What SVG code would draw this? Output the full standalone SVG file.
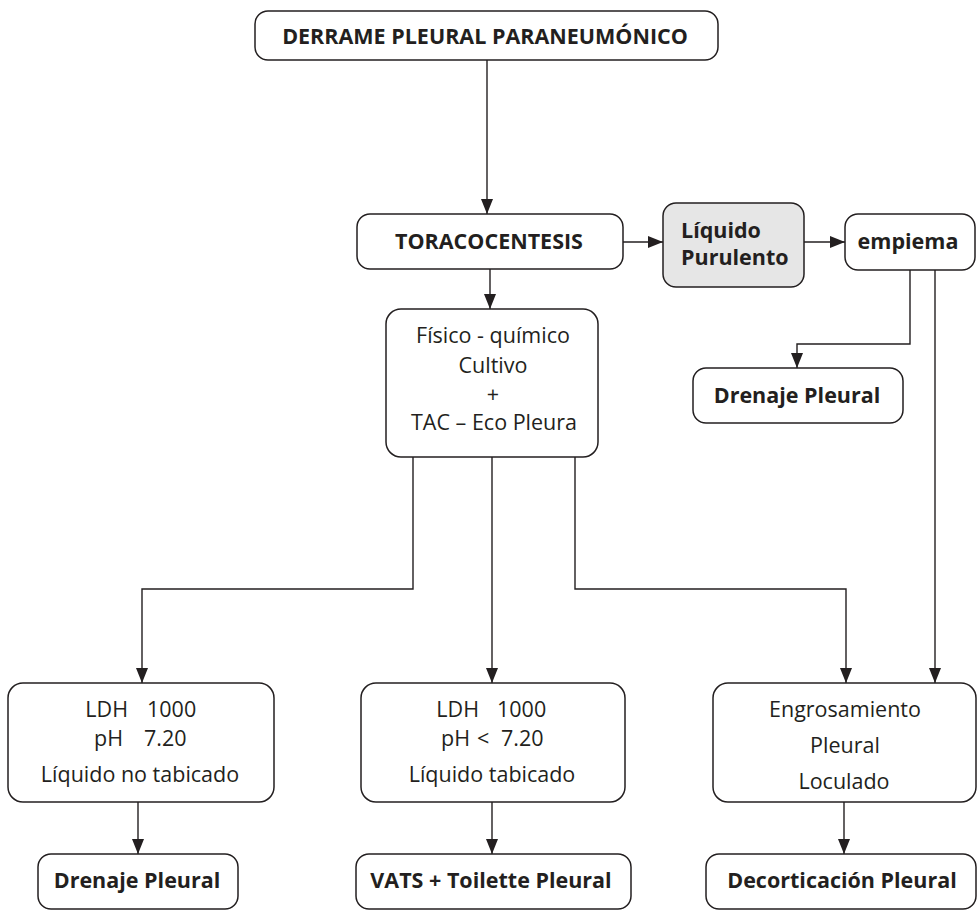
<svg xmlns="http://www.w3.org/2000/svg" width="978" height="912" viewBox="0 0 978 912">
  <style>
    .box { fill: #ffffff; stroke: #231f20; stroke-width: 1.5; }
    .shaded { fill: #e6e6e6; }
    .t { font-family: "Open Sans", "Noto Sans", "DejaVu Sans", sans-serif; font-size: 21.5px; fill: #231f20; }
    .b { font-weight: bold; }
    .c { text-anchor: middle; }
    .e { text-anchor: end; }
    .link { fill: none; stroke: #231f20; stroke-width: 1.4; }
  </style>
  <defs>
    <marker id="arrow" markerUnits="userSpaceOnUse" markerWidth="15" markerHeight="12" refX="15" refY="6" orient="auto">
      <path d="M0,0 L15,6 L0,12 Z" fill="#231f20"/>
    </marker>
  </defs>

  <rect width="978" height="912" fill="#ffffff"/>

  <!-- connectors -->
  <g id="connectors" class="link" marker-end="url(#arrow)">
    <path d="M487,60 V214"/>
    <path d="M490,269 V309"/>
    <path d="M623,242 H663"/>
    <path d="M804,242 H845"/>
    <path d="M910,270 V344 H797 V368"/>
    <path d="M935,270 V683"/>
    <path d="M413,457 V589 H142 V683"/>
    <path d="M492,457 V683"/>
    <path d="M575,457 V589 H846 V683"/>
    <path d="M138,802 V854"/>
    <path d="M492,802 V854"/>
    <path d="M844,802 V854"/>
  </g>

  <g id="derrame">
    <rect class="box" x="255" y="11" width="463" height="49" rx="13"/>
    <text class="t b c" x="485" y="44">DERRAME PLEURAL PARANEUMÓNICO</text>
  </g>

  <g id="toracocentesis">
    <rect class="box" x="357" y="214" width="266" height="55" rx="13"/>
    <text class="t b c" x="489" y="249">TORACOCENTESIS</text>
  </g>

  <g id="liquido-purulento">
    <rect class="box shaded" x="663" y="203" width="141" height="84" rx="13"/>
    <text class="t b" x="681" y="238">Líquido</text>
    <text class="t b" x="681" y="265">Purulento</text>
  </g>

  <g id="empiema">
    <rect class="box" x="845" y="214" width="130" height="56" rx="13"/>
    <text class="t b c" x="908" y="249">empiema</text>
  </g>

  <g id="drenaje-empiema">
    <rect class="box" x="693" y="368" width="210" height="55" rx="13"/>
    <text class="t b c" x="797" y="403">Drenaje Pleural</text>
  </g>

  <g id="fisico-quimico">
    <rect class="box" x="386" y="309" width="212" height="148" rx="15"/>
    <text class="t c" x="493" y="343">Físico - químico</text>
    <text class="t c" x="493" y="373">Cultivo</text>
    <text class="t c" x="493" y="402">+</text>
    <text class="t c" x="494" y="430">TAC – Eco Pleura</text>
  </g>

  <g id="no-tabicado">
    <rect class="box" x="8" y="683" width="266" height="119" rx="15"/>
    <text class="t e" x="128" y="717">LDH</text>
    <text class="t" x="147" y="717">1000</text>
    <text class="t e" x="123" y="746">pH</text>
    <text class="t" x="144" y="746">7.20</text>
    <text class="t c" x="140" y="782">Líquido no tabicado</text>
  </g>

  <g id="tabicado">
    <rect class="box" x="361" y="683" width="264" height="119" rx="15"/>
    <text class="t e" x="479" y="717">LDH</text>
    <text class="t" x="497" y="717">1000</text>
    <text class="t e" x="470" y="746">pH</text>
    <text class="t" x="477" y="746">&lt;</text>
    <text class="t" x="501" y="746">7.20</text>
    <text class="t c" x="492" y="782">Líquido tabicado</text>
  </g>

  <g id="engrosamiento">
    <rect class="box" x="713" y="683" width="263" height="119" rx="15"/>
    <text class="t c" x="845" y="717">Engrosamiento</text>
    <text class="t c" x="845" y="753">Pleural</text>
    <text class="t c" x="844" y="789">Loculado</text>
  </g>

  <g id="drenaje-pleural">
    <rect class="box" x="38" y="854" width="200" height="55" rx="13"/>
    <text class="t b c" x="137" y="888">Drenaje Pleural</text>
  </g>

  <g id="vats">
    <rect class="box" x="356" y="854" width="275" height="55" rx="13"/>
    <text class="t b c" x="491" y="888">VATS + Toilette Pleural</text>
  </g>

  <g id="decorticacion">
    <rect class="box" x="706" y="854" width="270" height="55" rx="13"/>
    <text class="t b c" x="842" y="888">Decorticación Pleural</text>
  </g>
</svg>
